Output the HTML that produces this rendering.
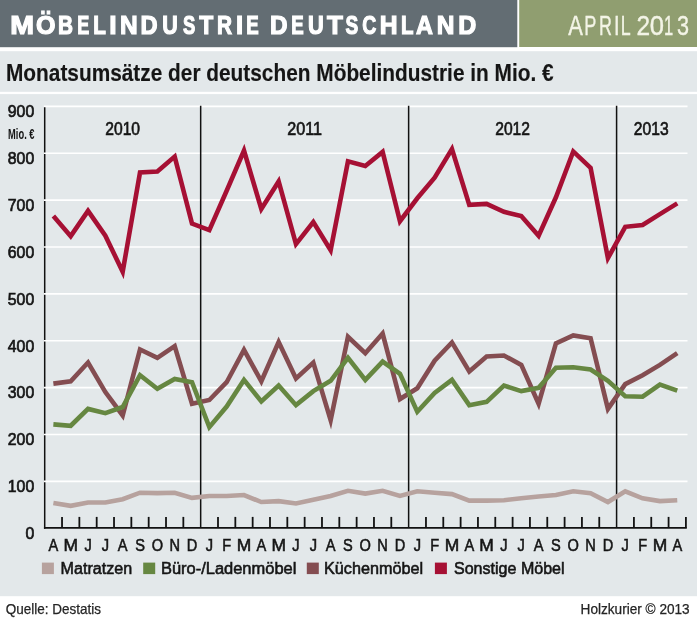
<!DOCTYPE html><html><head><meta charset="utf-8"><title>Möbelindustrie Deutschland</title><style>
html,body{margin:0;padding:0;background:#fff;}
body{width:697px;height:620px;overflow:hidden;font-family:"Liberation Sans",sans-serif;}
svg{display:block;will-change:transform;}
</style></head><body>
<svg width="697" height="620" viewBox="0 0 697 620" font-family='"Liberation Sans", sans-serif'>
<rect x="0" y="0" width="697" height="620" fill="#fff"/>
<rect x="0" y="0" width="517.3" height="47.2" fill="#636d73"/>
<rect x="519.2" y="0" width="177.8" height="47" fill="#909e70"/>
<rect x="0" y="51.2" width="697" height="40.6" fill="#e3e8ea"/>
<rect x="0" y="94.1" width="697" height="502.1" fill="#e3e8ea"/>
<g font-size="25.9" font-weight="bold" fill="#fff" stroke="#fff" stroke-width="1.2">
<text transform="translate(10.14,34.2) scale(1.104,1)">M</text>
<text transform="translate(36.02,34.2) scale(0.967,1)">Ö</text>
<text transform="translate(58.06,34.2) scale(0.804,1)">B</text>
<text transform="translate(77.15,34.2) scale(0.695,1)">E</text>
<text transform="translate(93.37,34.2) scale(0.798,1)">L</text>
<text transform="translate(109.19,34.2) scale(1.019,1)">I</text>
<text transform="translate(119.91,34.2) scale(0.946,1)">N</text>
<text transform="translate(140.57,34.2) scale(0.913,1)">D</text>
<text transform="translate(162.36,34.2) scale(0.829,1)">U</text>
<text transform="translate(183.12,34.2) scale(0.709,1)">S</text>
<text transform="translate(199.19,34.2) scale(0.885,1)">T</text>
<text transform="translate(216.96,34.2) scale(0.803,1)">R</text>
<text transform="translate(236.03,34.2) scale(0.992,1)">I</text>
<text transform="translate(246.20,34.2) scale(0.723,1)">E</text>
<text transform="translate(269.92,34.2) scale(0.938,1)">D</text>
<text transform="translate(291.20,34.2) scale(0.723,1)">E</text>
<text transform="translate(307.94,34.2) scale(0.841,1)">U</text>
<text transform="translate(327.06,34.2) scale(1.003,1)">T</text>
<text transform="translate(345.60,34.2) scale(0.735,1)">S</text>
<text transform="translate(362.15,34.2) scale(0.750,1)">C</text>
<text transform="translate(379.80,34.2) scale(0.952,1)">H</text>
<text transform="translate(401.08,34.2) scale(0.790,1)">L</text>
<text transform="translate(416.07,34.2) scale(0.904,1)">A</text>
<text transform="translate(436.81,34.2) scale(0.946,1)">N</text>
<text transform="translate(458.18,34.2) scale(0.963,1)">D</text>
</g>
<g font-size="27.6" fill="#f3f4e6" stroke="#f3f4e6" stroke-width="0.4">
<text transform="translate(568.33,34.5) scale(0.795,1)">A</text>
<text transform="translate(584.29,34.5) scale(0.657,1)">P</text>
<text transform="translate(598.90,34.5) scale(0.650,1)">R</text>
<text transform="translate(614.04,34.5) scale(0.719,1)">I</text>
<text transform="translate(620.81,34.5) scale(0.645,1)">L</text>
<text transform="translate(636.54,34.5) scale(0.887,1)">2</text>
<text transform="translate(649.77,34.5) scale(0.928,1)">0</text>
<text transform="translate(664.11,34.5) scale(0.601,1)">1</text>
<text transform="translate(677.05,34.5) scale(0.783,1)">3</text>
</g>
<text x="6.0" y="80.9" font-size="24.0" font-weight="bold" fill="#151515" stroke="#151515" stroke-width="0.15" textLength="547.6" lengthAdjust="spacingAndGlyphs">Monatsumsätze der deutschen Möbelindustrie in Mio. €</text>
<line x1="44.70" y1="106.6" x2="44.70" y2="528.70" stroke="#111" stroke-width="1.5"/>
<line x1="43.8" y1="481.33" x2="687.5" y2="481.33" stroke="#fff" stroke-width="1.6"/>
<line x1="43.8" y1="434.46" x2="687.5" y2="434.46" stroke="#fff" stroke-width="1.6"/>
<line x1="43.8" y1="387.59" x2="687.5" y2="387.59" stroke="#fff" stroke-width="1.6"/>
<line x1="43.8" y1="340.72" x2="687.5" y2="340.72" stroke="#fff" stroke-width="1.6"/>
<line x1="43.8" y1="293.86" x2="687.5" y2="293.86" stroke="#fff" stroke-width="1.6"/>
<line x1="43.8" y1="246.99" x2="687.5" y2="246.99" stroke="#fff" stroke-width="1.6"/>
<line x1="43.8" y1="200.12" x2="687.5" y2="200.12" stroke="#fff" stroke-width="1.6"/>
<line x1="43.8" y1="153.25" x2="687.5" y2="153.25" stroke="#fff" stroke-width="1.6"/>
<line x1="43.8" y1="106.38" x2="687.5" y2="106.38" stroke="#fff" stroke-width="1.6"/>
<text transform="translate(34.2,539.10) scale(0.93,1)" font-size="17.0" text-anchor="end" fill="#151515" stroke="#151515" stroke-width="0.7">0</text>
<text transform="translate(34.2,492.23) scale(0.93,1)" font-size="17.0" text-anchor="end" fill="#151515" stroke="#151515" stroke-width="0.7">100</text>
<text transform="translate(34.2,445.36) scale(0.93,1)" font-size="17.0" text-anchor="end" fill="#151515" stroke="#151515" stroke-width="0.7">200</text>
<text transform="translate(34.2,398.49) scale(0.93,1)" font-size="17.0" text-anchor="end" fill="#151515" stroke="#151515" stroke-width="0.7">300</text>
<text transform="translate(34.2,351.62) scale(0.93,1)" font-size="17.0" text-anchor="end" fill="#151515" stroke="#151515" stroke-width="0.7">400</text>
<text transform="translate(34.2,304.76) scale(0.93,1)" font-size="17.0" text-anchor="end" fill="#151515" stroke="#151515" stroke-width="0.7">500</text>
<text transform="translate(34.2,257.89) scale(0.93,1)" font-size="17.0" text-anchor="end" fill="#151515" stroke="#151515" stroke-width="0.7">600</text>
<text transform="translate(34.2,211.02) scale(0.93,1)" font-size="17.0" text-anchor="end" fill="#151515" stroke="#151515" stroke-width="0.7">700</text>
<text transform="translate(34.2,164.15) scale(0.93,1)" font-size="17.0" text-anchor="end" fill="#151515" stroke="#151515" stroke-width="0.7">800</text>
<text transform="translate(34.2,117.28) scale(0.93,1)" font-size="17.0" text-anchor="end" fill="#151515" stroke="#151515" stroke-width="0.7">900</text>
<text x="8.1" y="138.6" font-size="14.8" font-weight="bold" fill="#151515" textLength="26.4" lengthAdjust="spacingAndGlyphs">Mio. €</text>
<text x="122.68" y="134.7" font-size="18.1" text-anchor="middle" fill="#151515" stroke="#151515" stroke-width="0.65" textLength="34.8" lengthAdjust="spacingAndGlyphs">2010</text>
<text x="304.65" y="134.7" font-size="18.1" text-anchor="middle" fill="#151515" stroke="#151515" stroke-width="0.65" textLength="34.8" lengthAdjust="spacingAndGlyphs">2011</text>
<text x="512.61" y="134.7" font-size="18.1" text-anchor="middle" fill="#151515" stroke="#151515" stroke-width="0.65" textLength="34.8" lengthAdjust="spacingAndGlyphs">2012</text>
<text x="651.25" y="134.7" font-size="18.1" text-anchor="middle" fill="#151515" stroke="#151515" stroke-width="0.65" textLength="34.8" lengthAdjust="spacingAndGlyphs">2013</text>
<line x1="200.67" y1="105.8" x2="200.67" y2="527.80" stroke="#111" stroke-width="1.5"/>
<line x1="408.63" y1="105.8" x2="408.63" y2="527.80" stroke="#111" stroke-width="1.5"/>
<line x1="616.59" y1="105.8" x2="616.59" y2="527.80" stroke="#111" stroke-width="1.5"/>
<polyline points="53.37,502.99 70.69,505.80 88.03,502.52 105.35,502.52 122.68,499.25 140.01,492.69 157.34,493.16 174.68,492.69 192.00,497.84 209.33,495.97 226.66,495.97 244.00,495.03 261.32,502.05 278.65,501.12 295.98,503.46 313.31,499.71 330.64,495.97 347.97,490.82 365.30,493.63 382.63,490.82 399.96,495.97 417.29,491.29 434.62,492.69 451.95,494.10 469.28,500.65 486.61,500.65 503.94,500.18 521.27,498.31 538.61,496.44 555.93,495.03 573.26,491.29 590.60,493.16 607.92,502.05 625.25,491.29 642.59,498.31 659.91,501.12 677.25,500.18" fill="none" stroke="#b7a29e" stroke-width="4.6" stroke-linejoin="miter" stroke-miterlimit="10" stroke-linecap="butt"/>
<polyline points="53.37,383.63 70.69,381.28 88.03,362.56 105.35,392.05 122.68,415.46 140.01,349.45 157.34,357.88 174.68,346.18 192.00,403.75 209.33,400.01 226.66,382.22 244.00,349.92 261.32,381.28 278.65,341.96 295.98,378.48 313.31,362.56 330.64,420.14 347.97,336.82 365.30,353.20 382.63,333.54 399.96,399.07 417.29,388.31 434.62,360.69 451.95,342.43 469.28,371.45 486.61,356.48 503.94,355.54 521.27,364.90 538.61,403.75 555.93,343.37 573.26,335.41 590.60,338.22 607.92,408.90 625.25,384.09 642.59,375.20 659.91,364.90 677.25,353.20" fill="none" stroke="#844d51" stroke-width="4.6" stroke-linejoin="miter" stroke-miterlimit="10" stroke-linecap="butt"/>
<polyline points="53.37,424.35 70.69,425.75 88.03,408.90 105.35,413.12 122.68,407.03 140.01,375.20 157.34,388.77 174.68,378.94 192.00,382.22 209.33,427.16 226.66,406.56 244.00,379.88 261.32,401.41 278.65,385.50 295.98,405.16 313.31,391.11 330.64,380.82 347.97,357.88 365.30,379.88 382.63,361.62 399.96,373.80 417.29,411.71 434.62,392.99 451.95,379.88 469.28,405.16 486.61,401.88 503.94,385.50 521.27,391.11 538.61,387.84 555.93,367.71 573.26,367.24 590.60,369.58 607.92,380.82 625.25,396.26 642.59,396.73 659.91,384.56 677.25,390.65" fill="none" stroke="#668741" stroke-width="4.6" stroke-linejoin="miter" stroke-miterlimit="10" stroke-linecap="butt"/>
<polyline points="53.37,216.05 70.69,236.17 88.03,210.90 105.35,235.71 122.68,271.75 140.01,172.51 157.34,171.58 174.68,156.60 192.00,223.53 209.33,230.09 226.66,190.77 244.00,150.51 261.32,209.02 278.65,181.41 295.98,244.13 313.31,222.13 330.64,250.22 347.97,161.28 365.30,165.96 382.63,151.92 399.96,221.19 417.29,198.26 434.62,177.66 451.95,149.11 469.28,204.81 486.61,203.87 503.94,211.83 521.27,216.05 538.61,235.71 555.93,197.32 573.26,151.45 590.60,167.83 607.92,258.17 625.25,226.81 642.59,224.94 659.91,214.17 677.25,203.41" fill="none" stroke="#a61034" stroke-width="4.6" stroke-linejoin="miter" stroke-miterlimit="10" stroke-linecap="butt"/>
<line x1="62.03" y1="516.9" x2="62.03" y2="527.80" stroke="#111" stroke-width="1.8"/>
<line x1="79.36" y1="516.9" x2="79.36" y2="527.80" stroke="#111" stroke-width="1.8"/>
<line x1="96.69" y1="516.9" x2="96.69" y2="527.80" stroke="#111" stroke-width="1.8"/>
<line x1="114.02" y1="516.9" x2="114.02" y2="527.80" stroke="#111" stroke-width="1.8"/>
<line x1="131.35" y1="516.9" x2="131.35" y2="527.80" stroke="#111" stroke-width="1.8"/>
<line x1="148.68" y1="516.9" x2="148.68" y2="527.80" stroke="#111" stroke-width="1.8"/>
<line x1="166.01" y1="516.9" x2="166.01" y2="527.80" stroke="#111" stroke-width="1.8"/>
<line x1="183.34" y1="516.9" x2="183.34" y2="527.80" stroke="#111" stroke-width="1.8"/>
<line x1="218.00" y1="516.9" x2="218.00" y2="527.80" stroke="#111" stroke-width="1.8"/>
<line x1="235.33" y1="516.9" x2="235.33" y2="527.80" stroke="#111" stroke-width="1.8"/>
<line x1="252.66" y1="516.9" x2="252.66" y2="527.80" stroke="#111" stroke-width="1.8"/>
<line x1="269.99" y1="516.9" x2="269.99" y2="527.80" stroke="#111" stroke-width="1.8"/>
<line x1="287.32" y1="516.9" x2="287.32" y2="527.80" stroke="#111" stroke-width="1.8"/>
<line x1="304.65" y1="516.9" x2="304.65" y2="527.80" stroke="#111" stroke-width="1.8"/>
<line x1="321.98" y1="516.9" x2="321.98" y2="527.80" stroke="#111" stroke-width="1.8"/>
<line x1="339.31" y1="516.9" x2="339.31" y2="527.80" stroke="#111" stroke-width="1.8"/>
<line x1="356.64" y1="516.9" x2="356.64" y2="527.80" stroke="#111" stroke-width="1.8"/>
<line x1="373.97" y1="516.9" x2="373.97" y2="527.80" stroke="#111" stroke-width="1.8"/>
<line x1="391.30" y1="516.9" x2="391.30" y2="527.80" stroke="#111" stroke-width="1.8"/>
<line x1="425.96" y1="516.9" x2="425.96" y2="527.80" stroke="#111" stroke-width="1.8"/>
<line x1="443.29" y1="516.9" x2="443.29" y2="527.80" stroke="#111" stroke-width="1.8"/>
<line x1="460.62" y1="516.9" x2="460.62" y2="527.80" stroke="#111" stroke-width="1.8"/>
<line x1="477.95" y1="516.9" x2="477.95" y2="527.80" stroke="#111" stroke-width="1.8"/>
<line x1="495.28" y1="516.9" x2="495.28" y2="527.80" stroke="#111" stroke-width="1.8"/>
<line x1="512.61" y1="516.9" x2="512.61" y2="527.80" stroke="#111" stroke-width="1.8"/>
<line x1="529.94" y1="516.9" x2="529.94" y2="527.80" stroke="#111" stroke-width="1.8"/>
<line x1="547.27" y1="516.9" x2="547.27" y2="527.80" stroke="#111" stroke-width="1.8"/>
<line x1="564.60" y1="516.9" x2="564.60" y2="527.80" stroke="#111" stroke-width="1.8"/>
<line x1="581.93" y1="516.9" x2="581.93" y2="527.80" stroke="#111" stroke-width="1.8"/>
<line x1="599.26" y1="516.9" x2="599.26" y2="527.80" stroke="#111" stroke-width="1.8"/>
<line x1="633.92" y1="516.9" x2="633.92" y2="527.80" stroke="#111" stroke-width="1.8"/>
<line x1="651.25" y1="516.9" x2="651.25" y2="527.80" stroke="#111" stroke-width="1.8"/>
<line x1="668.58" y1="516.9" x2="668.58" y2="527.80" stroke="#111" stroke-width="1.8"/>
<line x1="685.91" y1="516.9" x2="685.91" y2="527.80" stroke="#111" stroke-width="1.8"/>
<line x1="43.95" y1="527.80" x2="686.81" y2="527.80" stroke="#111" stroke-width="1.8"/>
<text transform="translate(53.37,550.5) scale(0.88,1)" font-size="16.6" text-anchor="middle" fill="#151515" stroke="#151515" stroke-width="0.55">A</text>
<text transform="translate(70.69,550.5) scale(1.05,1)" font-size="16.6" text-anchor="middle" fill="#151515" stroke="#151515" stroke-width="0.55">M</text>
<text transform="translate(88.03,550.5) scale(0.88,1)" font-size="16.6" text-anchor="middle" fill="#151515" stroke="#151515" stroke-width="0.55">J</text>
<text transform="translate(105.35,550.5) scale(0.88,1)" font-size="16.6" text-anchor="middle" fill="#151515" stroke="#151515" stroke-width="0.55">J</text>
<text transform="translate(122.68,550.5) scale(0.88,1)" font-size="16.6" text-anchor="middle" fill="#151515" stroke="#151515" stroke-width="0.55">A</text>
<text transform="translate(140.01,550.5) scale(0.88,1)" font-size="16.6" text-anchor="middle" fill="#151515" stroke="#151515" stroke-width="0.55">S</text>
<text transform="translate(157.34,550.5) scale(0.88,1)" font-size="16.6" text-anchor="middle" fill="#151515" stroke="#151515" stroke-width="0.55">O</text>
<text transform="translate(174.68,550.5) scale(0.88,1)" font-size="16.6" text-anchor="middle" fill="#151515" stroke="#151515" stroke-width="0.55">N</text>
<text transform="translate(192.00,550.5) scale(0.88,1)" font-size="16.6" text-anchor="middle" fill="#151515" stroke="#151515" stroke-width="0.55">D</text>
<text transform="translate(209.33,550.5) scale(0.88,1)" font-size="16.6" text-anchor="middle" fill="#151515" stroke="#151515" stroke-width="0.55">J</text>
<text transform="translate(226.66,550.5) scale(0.88,1)" font-size="16.6" text-anchor="middle" fill="#151515" stroke="#151515" stroke-width="0.55">F</text>
<text transform="translate(244.00,550.5) scale(1.05,1)" font-size="16.6" text-anchor="middle" fill="#151515" stroke="#151515" stroke-width="0.55">M</text>
<text transform="translate(261.32,550.5) scale(0.88,1)" font-size="16.6" text-anchor="middle" fill="#151515" stroke="#151515" stroke-width="0.55">A</text>
<text transform="translate(278.65,550.5) scale(1.05,1)" font-size="16.6" text-anchor="middle" fill="#151515" stroke="#151515" stroke-width="0.55">M</text>
<text transform="translate(295.98,550.5) scale(0.88,1)" font-size="16.6" text-anchor="middle" fill="#151515" stroke="#151515" stroke-width="0.55">J</text>
<text transform="translate(313.31,550.5) scale(0.88,1)" font-size="16.6" text-anchor="middle" fill="#151515" stroke="#151515" stroke-width="0.55">J</text>
<text transform="translate(330.64,550.5) scale(0.88,1)" font-size="16.6" text-anchor="middle" fill="#151515" stroke="#151515" stroke-width="0.55">A</text>
<text transform="translate(347.97,550.5) scale(0.88,1)" font-size="16.6" text-anchor="middle" fill="#151515" stroke="#151515" stroke-width="0.55">S</text>
<text transform="translate(365.30,550.5) scale(0.88,1)" font-size="16.6" text-anchor="middle" fill="#151515" stroke="#151515" stroke-width="0.55">O</text>
<text transform="translate(382.63,550.5) scale(0.88,1)" font-size="16.6" text-anchor="middle" fill="#151515" stroke="#151515" stroke-width="0.55">N</text>
<text transform="translate(399.96,550.5) scale(0.88,1)" font-size="16.6" text-anchor="middle" fill="#151515" stroke="#151515" stroke-width="0.55">D</text>
<text transform="translate(417.29,550.5) scale(0.88,1)" font-size="16.6" text-anchor="middle" fill="#151515" stroke="#151515" stroke-width="0.55">J</text>
<text transform="translate(434.62,550.5) scale(0.88,1)" font-size="16.6" text-anchor="middle" fill="#151515" stroke="#151515" stroke-width="0.55">F</text>
<text transform="translate(451.95,550.5) scale(1.05,1)" font-size="16.6" text-anchor="middle" fill="#151515" stroke="#151515" stroke-width="0.55">M</text>
<text transform="translate(469.28,550.5) scale(0.88,1)" font-size="16.6" text-anchor="middle" fill="#151515" stroke="#151515" stroke-width="0.55">A</text>
<text transform="translate(486.61,550.5) scale(1.05,1)" font-size="16.6" text-anchor="middle" fill="#151515" stroke="#151515" stroke-width="0.55">M</text>
<text transform="translate(503.94,550.5) scale(0.88,1)" font-size="16.6" text-anchor="middle" fill="#151515" stroke="#151515" stroke-width="0.55">J</text>
<text transform="translate(521.27,550.5) scale(0.88,1)" font-size="16.6" text-anchor="middle" fill="#151515" stroke="#151515" stroke-width="0.55">J</text>
<text transform="translate(538.61,550.5) scale(0.88,1)" font-size="16.6" text-anchor="middle" fill="#151515" stroke="#151515" stroke-width="0.55">A</text>
<text transform="translate(555.93,550.5) scale(0.88,1)" font-size="16.6" text-anchor="middle" fill="#151515" stroke="#151515" stroke-width="0.55">S</text>
<text transform="translate(573.26,550.5) scale(0.88,1)" font-size="16.6" text-anchor="middle" fill="#151515" stroke="#151515" stroke-width="0.55">O</text>
<text transform="translate(590.60,550.5) scale(0.88,1)" font-size="16.6" text-anchor="middle" fill="#151515" stroke="#151515" stroke-width="0.55">N</text>
<text transform="translate(607.92,550.5) scale(0.88,1)" font-size="16.6" text-anchor="middle" fill="#151515" stroke="#151515" stroke-width="0.55">D</text>
<text transform="translate(625.25,550.5) scale(0.88,1)" font-size="16.6" text-anchor="middle" fill="#151515" stroke="#151515" stroke-width="0.55">J</text>
<text transform="translate(642.59,550.5) scale(0.88,1)" font-size="16.6" text-anchor="middle" fill="#151515" stroke="#151515" stroke-width="0.55">F</text>
<text transform="translate(659.91,550.5) scale(1.05,1)" font-size="16.6" text-anchor="middle" fill="#151515" stroke="#151515" stroke-width="0.55">M</text>
<text transform="translate(677.25,550.5) scale(0.88,1)" font-size="16.6" text-anchor="middle" fill="#151515" stroke="#151515" stroke-width="0.55">A</text>
<rect x="41.9" y="562.6" width="12" height="11.5" fill="#b7a29e"/>
<text x="60.5" y="573.8" font-size="17.3" fill="#151515" stroke="#151515" stroke-width="0.6" textLength="71.7" lengthAdjust="spacingAndGlyphs">Matratzen</text>
<rect x="143.2" y="562.6" width="12" height="11.5" fill="#668741"/>
<text x="160.9" y="573.8" font-size="17.3" fill="#151515" stroke="#151515" stroke-width="0.6" textLength="135.5" lengthAdjust="spacingAndGlyphs">Büro-/Ladenmöbel</text>
<rect x="306.8" y="562.6" width="12" height="11.5" fill="#844d51"/>
<text x="324" y="573.8" font-size="17.3" fill="#151515" stroke="#151515" stroke-width="0.6" textLength="99.1" lengthAdjust="spacingAndGlyphs">Küchenmöbel</text>
<rect x="434.9" y="562.6" width="12" height="11.5" fill="#a61034"/>
<text x="454" y="573.8" font-size="17.3" fill="#151515" stroke="#151515" stroke-width="0.6" textLength="110.6" lengthAdjust="spacingAndGlyphs">Sonstige Möbel</text>
<text x="5.7" y="613.6" font-size="13.9" fill="#252525" stroke="#252525" stroke-width="0.25" textLength="95.3" lengthAdjust="spacingAndGlyphs">Quelle: Destatis</text>
<text x="580.6" y="614" font-size="13.9" fill="#252525" stroke="#252525" stroke-width="0.25" textLength="109.1" lengthAdjust="spacingAndGlyphs">Holzkurier © 2013</text>
</svg></body></html>
